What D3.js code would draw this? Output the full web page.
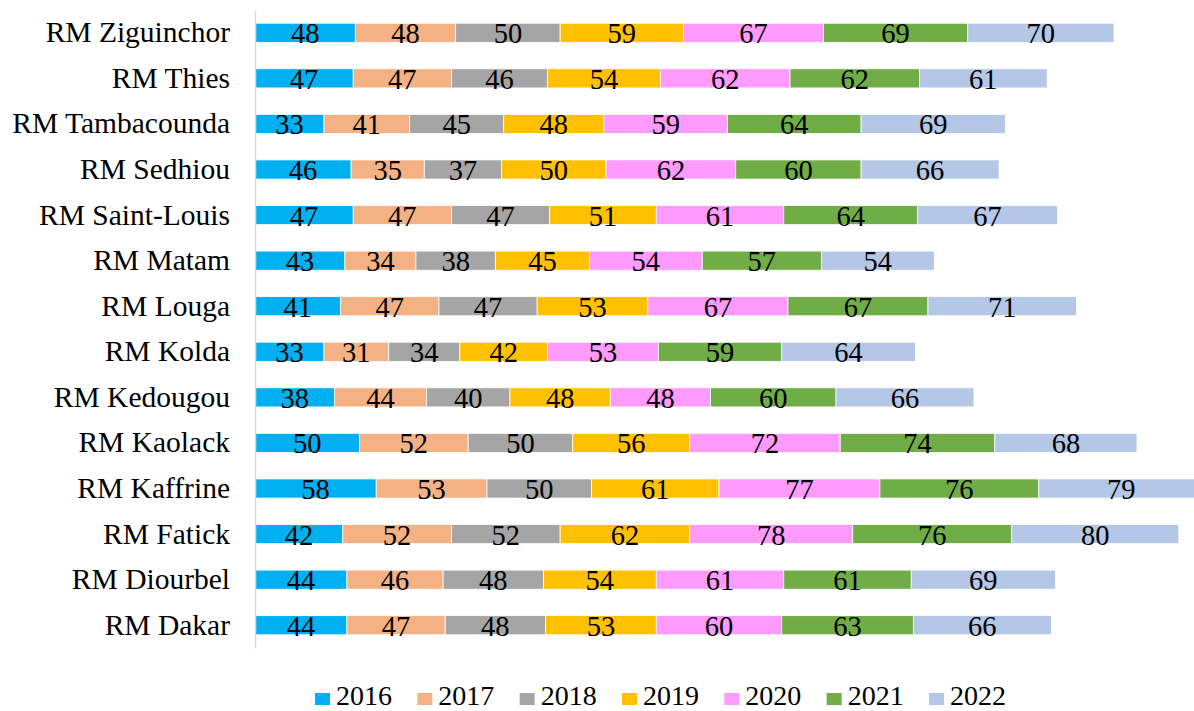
<!DOCTYPE html>
<html>
<head>
<meta charset="utf-8">
<script src="https://cdn.jsdelivr.net/npm/d3@7"></script>
<style>
	body { margin: 0; background: #fff; }
	svg text { font-family: "Liberation Serif", "Times New Roman", serif; fill: #000; }
</style>
</head>
<body>
<script>
//Regions, top to bottom as drawn
const regions = ["RM Ziguinchor", "RM Thies", "RM Tambacounda", "RM Sedhiou", "RM Saint-Louis",
	"RM Matam", "RM Louga", "RM Kolda", "RM Kedougou", "RM Kaolack", "RM Kaffrine",
	"RM Fatick", "RM Diourbel", "RM Dakar"];

const years = ["2016", "2017", "2018", "2019", "2020", "2021", "2022"];

//One array per year, same order as regions
const v2016 = [48, 47, 33, 46, 47, 43, 41, 33, 38, 50, 58, 42, 44, 44];
const v2017 = [48, 47, 41, 35, 47, 34, 47, 31, 44, 52, 53, 52, 46, 47];
const v2018 = [50, 46, 45, 37, 47, 38, 47, 34, 40, 50, 50, 52, 48, 48];
const v2019 = [59, 54, 48, 50, 51, 45, 53, 42, 48, 56, 61, 62, 54, 53];
const v2020 = [67, 62, 59, 62, 61, 54, 67, 53, 48, 72, 77, 78, 61, 60];
const v2021 = [69, 62, 64, 60, 64, 57, 67, 59, 60, 74, 76, 76, 61, 63];
const v2022 = [70, 61, 69, 66, 67, 54, 71, 64, 66, 68, 79, 80, 69, 66];

const colors = ["#00B0F0", "#F4B183", "#A5A5A5", "#FFC000", "#FF9BFF", "#70AD47", "#B4C7E7"];

const serif = "'Liberation Serif', 'Times New Roman', serif";

window.onload = function(){
	let w = 1194, h = 711;
	let series = [v2016, v2017, v2018, v2019, v2020, v2021, v2022];

	//Rows for the stack generator
	let rows = regions.map(function(r, i){
		let row = {region: r};
		years.forEach(function(y, j){ row[y] = series[j][i]; });
		return row;
	});

	let stacked = d3.stack().keys(years)(rows);

	let svg = d3.select("body").append("svg")
		.attr("width", w)
		.attr("height", h)
		.attr("font-family", serif);

	//Scales
	let x = d3.scaleLinear()
		.domain([0, 450])
		.range([255, 255 + 450 * 2.09]);

	let y = d3.scaleBand()
		.domain(regions)
		.range([10, 648])
		.paddingInner(0.58)
		.paddingOuter(0.29);

	//Bars
	let layers = svg.selectAll(".layer")
		.data(stacked)
		.enter()
		.append("g")
		.attr("class", "layer")
		.attr("fill", function(d, i){ return colors[i]; });

	layers.selectAll("rect")
		.data(function(d){ return d; })
		.enter()
		.append("rect")
		.attr("x", function(d){ return x(d[0]); })
		.attr("y", function(d){ return y(d.data.region); })
		.attr("width", function(d){ return x(d[1]) - x(d[0]); })
		.attr("height", y.bandwidth())
		.attr("stroke", "#fff")
		.attr("stroke-width", 0.8);

	//Value labels in the middle of each segment
	layers.selectAll(".val")
		.data(function(d){ return d.map(function(p){ p.key = d.key; return p; }); })
		.enter()
		.append("text")
		.attr("class", "val")
		.attr("x", function(d){ return (x(d[0]) + x(d[1])) / 2; })
		.attr("y", function(d){ return y(d.data.region) + y.bandwidth() / 2; })
		.attr("dy", "0.37em")
		.attr("text-anchor", "middle")
		.style("font-family", serif)
		.style("font-size", "28.5px")
		.text(function(d){ return d.data[d.key]; });

	//Category axis
	let axis = svg.append("g")
		.attr("class", "axis")
		.attr("transform", "translate(255,0)")
		.call(d3.axisLeft(y).tickSize(0).tickPadding(25));

	axis.select(".domain")
		.attr("stroke", "#D9D9D9")
		.attr("stroke-width", 1.5);

	axis.selectAll(".tick text")
		.style("font-size", "29.5px")
		.style("font-family", serif)
		.attr("fill", "#000");

	//Legend (kept just inside the bottom edge)
	let lx = d3.scalePoint()
		.domain(years)
		.range([315, 929]);

	let legend = svg.selectAll(".legend")
		.data(years)
		.enter()
		.append("g")
		.attr("class", "legend")
		.attr("transform", function(d){ return "translate(" + lx(d) + ",0)"; });

	legend.append("rect")
		.attr("x", 0)
		.attr("y", 693)
		.attr("width", 15)
		.attr("height", 12)
		.attr("fill", function(d, i){ return colors[i]; });

	legend.append("text")
		.attr("x", 21)
		.attr("y", 704.5)
		.style("font-family", serif)
		.style("font-size", "28px")
		.text(function(d){ return d; });
};
</script>
</body>
</html>
